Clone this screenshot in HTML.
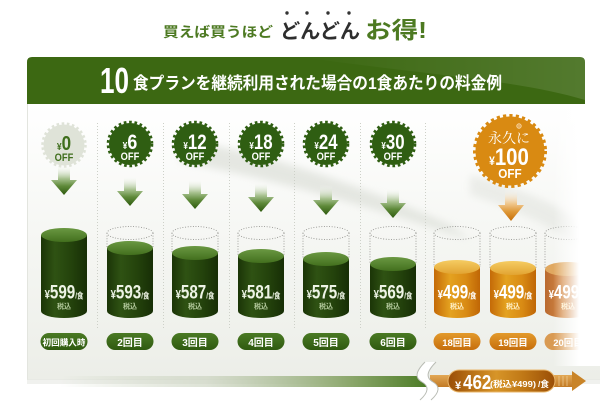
<!DOCTYPE html>
<html><head><meta charset="utf-8">
<style>
html,body{margin:0;padding:0;background:#fff;}
svg{display:block;}
.jp{font-family:"Liberation Sans","Noto Sans CJK JP",sans-serif;font-weight:bold;}
.num{font-family:"Liberation Sans","Noto Sans CJK JP",sans-serif;font-weight:bold;}
</style></head>
<body>
<svg width="600" height="402" viewBox="0 0 600 402" xmlns="http://www.w3.org/2000/svg">
<defs>
  <linearGradient id="panel" x1="0" y1="0" x2="0" y2="1">
    <stop offset="0" stop-color="#ffffff"/>
    <stop offset="0.45" stop-color="#f6f7f4"/>
    <stop offset="1" stop-color="#eceee8"/>
  </linearGradient>
  <linearGradient id="fadeR" x1="540" y1="0" x2="600" y2="0" gradientUnits="userSpaceOnUse">
    <stop offset="0" stop-color="#fff" stop-opacity="0"/>
    <stop offset="0.22" stop-color="#fff" stop-opacity="0"/>
    <stop offset="0.65" stop-color="#fff" stop-opacity="1"/>
    <stop offset="1" stop-color="#fff" stop-opacity="1"/>
  </linearGradient>
  <linearGradient id="garr" x1="0" y1="0" x2="0" y2="1">
    <stop offset="0" stop-color="#ffffff" stop-opacity="0"/>
    <stop offset="0.45" stop-color="#a8c290"/>
    <stop offset="0.7" stop-color="#5f8a3a"/>
    <stop offset="1" stop-color="#2e5a0e"/>
  </linearGradient>
  <linearGradient id="oarr" x1="0" y1="0" x2="0" y2="1">
    <stop offset="0" stop-color="#ffffff" stop-opacity="0"/>
    <stop offset="0.45" stop-color="#f0c890"/>
    <stop offset="0.7" stop-color="#df9a3a"/>
    <stop offset="1" stop-color="#c66e08"/>
  </linearGradient>
  <linearGradient id="gbody" x1="0" y1="0" x2="1" y2="0">
    <stop offset="0" stop-color="#1b3507"/>
    <stop offset="0.3" stop-color="#2f5213"/>
    <stop offset="0.65" stop-color="#24430c"/>
    <stop offset="1" stop-color="#172e06"/>
  </linearGradient>
  <linearGradient id="gtop" x1="0" y1="0" x2="0" y2="1">
    <stop offset="0" stop-color="#6a9842"/>
    <stop offset="1" stop-color="#43701e"/>
  </linearGradient>
  <linearGradient id="obody" x1="0" y1="0" x2="1" y2="0">
    <stop offset="0" stop-color="#c46a08"/>
    <stop offset="0.35" stop-color="#e4a220"/>
    <stop offset="0.7" stop-color="#d98b14"/>
    <stop offset="1" stop-color="#bf6606"/>
  </linearGradient>
  <linearGradient id="otop" x1="0" y1="0" x2="0" y2="1">
    <stop offset="0" stop-color="#f5cc62"/>
    <stop offset="1" stop-color="#e2a432"/>
  </linearGradient>
  <linearGradient id="bbody" x1="0" y1="0" x2="1" y2="0">
    <stop offset="0" stop-color="#b96a30"/>
    <stop offset="0.4" stop-color="#d58a45"/>
    <stop offset="1" stop-color="#c07038"/>
  </linearGradient>
  <linearGradient id="gpill" x1="0" y1="0" x2="0" y2="1">
    <stop offset="0" stop-color="#4a7a24"/>
    <stop offset="1" stop-color="#2f5a10"/>
  </linearGradient>
  <linearGradient id="opill" x1="0" y1="0" x2="0" y2="1">
    <stop offset="0" stop-color="#e39a2c"/>
    <stop offset="1" stop-color="#c66e0c"/>
  </linearGradient>
  <linearGradient id="gbar" x1="60" y1="0" x2="425" y2="0" gradientUnits="userSpaceOnUse">
    <stop offset="0" stop-color="#b8c4a8" stop-opacity="0"/>
    <stop offset="0.4" stop-color="#c7d0bb" stop-opacity="0.6"/>
    <stop offset="0.8" stop-color="#8aa66a"/>
    <stop offset="1" stop-color="#4e7d28"/>
  </linearGradient>
  <linearGradient id="obar" x1="0" y1="0" x2="0" y2="1">
    <stop offset="0" stop-color="#e2a855"/>
    <stop offset="1" stop-color="#c27a25"/>
  </linearGradient>
  <linearGradient id="bigpill" x1="0" y1="0" x2="1" y2="0">
    <stop offset="0" stop-color="#9a4e06"/>
    <stop offset="0.45" stop-color="#d79528"/>
    <stop offset="0.7" stop-color="#c07816"/>
    <stop offset="1" stop-color="#9a4e06"/>
  </linearGradient>
  <linearGradient id="banhi" x1="0" y1="0" x2="1" y2="0">
    <stop offset="0" stop-color="#ffffff" stop-opacity="0"/>
    <stop offset="1" stop-color="#ffffff" stop-opacity="0.12"/>
  </linearGradient>
  <filter id="blur" x="-20%" y="-50%" width="140%" height="200%"><feGaussianBlur stdDeviation="4"/></filter>
</defs>

<!-- panel -->
<rect x="27" y="104" width="573" height="276" fill="url(#panel)"/>
<line x1="27.5" y1="104" x2="27.5" y2="380" stroke="#e3e5df" stroke-width="1"/>
<rect x="27" y="379" width="573" height="5" fill="#e6e8e2" opacity="0.6"/>
<!-- swoosh -->
<path d="M180,140 C260,150 360,185 450,225 L470,240 C380,210 280,180 180,162 Z" fill="#dcdfd8" opacity="0.7" filter="url(#blur)"/>
<path d="M470,175 C530,190 580,215 600,240 L600,262 C570,235 520,210 470,195 Z" fill="#e2e4df" opacity="0.6" filter="url(#blur)"/>

<!-- title -->
<text class="jp" x="163" y="37" font-size="14" fill="#4d7a22" textLength="110" lengthAdjust="spacingAndGlyphs">買えば買うほど</text>
<text class="jp" x="280" y="38" font-size="20" fill="#2e2e2e" textLength="80" lengthAdjust="spacingAndGlyphs">どんどん</text>
<circle cx="287" cy="13" r="1.7" fill="#333"/>
<circle cx="307" cy="13" r="1.7" fill="#333"/>
<circle cx="328" cy="13" r="1.7" fill="#333"/>
<circle cx="349" cy="13" r="1.7" fill="#333"/>
<text class="jp" x="365" y="38" font-size="23" fill="#4d7a22" textLength="62" lengthAdjust="spacingAndGlyphs">お得!</text>

<!-- banner -->
<path d="M27,104 V62 Q27,57 32,57 H580 Q585,57 585,62 V104 Z" fill="#3c6812"/>
<path d="M300,57 H580 Q585,57 585,62 V100 C520,80 420,74 300,57 Z" fill="url(#banhi)"/>
<text class="num" x="100" y="93" font-size="36" fill="#fff" textLength="29" lengthAdjust="spacingAndGlyphs">10</text>
<text class="jp" x="133" y="89" font-size="17" fill="#fff" textLength="369" lengthAdjust="spacingAndGlyphs">食プランを継続利用された場合の1食あたりの料金例</text>

<!-- dividers -->
<g stroke="#cdd0c8" stroke-width="1" stroke-dasharray="1 2">
  <line x1="97.5" y1="123" x2="97.5" y2="328"/>
  <line x1="163.5" y1="123" x2="163.5" y2="328"/>
  <line x1="229.5" y1="123" x2="229.5" y2="328"/>
  <line x1="294.5" y1="123" x2="294.5" y2="328"/>
  <line x1="360.5" y1="123" x2="360.5" y2="328"/>
  <line x1="425.5" y1="123" x2="425.5" y2="328"/>
</g>

<!-- badges -->
<g>
  <circle cx="64" cy="145" r="20.5" fill="#dfe3d8"/>
  <circle cx="64" cy="145" r="21.5" fill="none" stroke="#dfe3d8" stroke-width="2.5" stroke-dasharray="2.6 2.6"/>
  <g transform="translate(64,150) scale(0.85,1)"><text class="num" text-anchor="middle" fill="#3f6e1c"><tspan font-size="10">¥</tspan><tspan font-size="20">0</tspan></text></g>
  <g transform="translate(64,161) scale(0.85,1)"><text class="num" text-anchor="middle" font-size="11" fill="#3f6e1c">OFF</text></g>
</g>
<g fill="#2f5e12">
  <circle cx="130" cy="144" r="21"/>
  <circle cx="195" cy="144" r="21"/>
  <circle cx="261" cy="144" r="21"/>
  <circle cx="326" cy="144" r="21"/>
  <circle cx="393" cy="144" r="21"/>
</g>
<g fill="none" stroke="#2f5e12" stroke-width="2.6" stroke-dasharray="2.7 2.7">
  <circle cx="130" cy="144" r="22"/>
  <circle cx="195" cy="144" r="22"/>
  <circle cx="261" cy="144" r="22"/>
  <circle cx="326" cy="144" r="22"/>
  <circle cx="393" cy="144" r="22"/>
</g>
<g fill="#fff" class="num">
  <g transform="translate(130,149) scale(0.85,1)"><text class="num" text-anchor="middle"><tspan font-size="10">¥</tspan><tspan font-size="21">6</tspan></text></g>
  <g transform="translate(195,149) scale(0.8,1)"><text class="num" text-anchor="middle"><tspan font-size="10">¥</tspan><tspan font-size="21">12</tspan></text></g>
  <g transform="translate(261,149) scale(0.8,1)"><text class="num" text-anchor="middle"><tspan font-size="10">¥</tspan><tspan font-size="21">18</tspan></text></g>
  <g transform="translate(326,149) scale(0.8,1)"><text class="num" text-anchor="middle"><tspan font-size="10">¥</tspan><tspan font-size="21">24</tspan></text></g>
  <g transform="translate(393,149) scale(0.8,1)"><text class="num" text-anchor="middle"><tspan font-size="10">¥</tspan><tspan font-size="21">30</tspan></text></g>
  <g transform="translate(130,160) scale(0.85,1)"><text class="num" text-anchor="middle" font-size="11">OFF</text></g>
  <g transform="translate(195,160) scale(0.85,1)"><text class="num" text-anchor="middle" font-size="11">OFF</text></g>
  <g transform="translate(261,160) scale(0.85,1)"><text class="num" text-anchor="middle" font-size="11">OFF</text></g>
  <g transform="translate(326,160) scale(0.85,1)"><text class="num" text-anchor="middle" font-size="11">OFF</text></g>
  <g transform="translate(393,160) scale(0.85,1)"><text class="num" text-anchor="middle" font-size="11">OFF</text></g>
</g>
<!-- orange badge -->
<circle cx="510" cy="151" r="34.5" fill="#d98a12"/>
<circle cx="510" cy="151" r="35.5" fill="none" stroke="#d98a12" stroke-width="3" stroke-dasharray="3.2 3.2"/>
<circle cx="519" cy="126" r="2.3" fill="#eab060" stroke="#fbe2b8" stroke-width="0.6"/>
<text x="509" y="143" text-anchor="middle" font-family="'Liberation Serif','Noto Serif CJK SC',serif" font-size="14" fill="#fff" textLength="42" lengthAdjust="spacingAndGlyphs">永久に</text>
<g transform="translate(509,165) scale(0.85,1)"><text class="num" text-anchor="middle" fill="#fff"><tspan font-size="12">¥</tspan><tspan font-size="24">100</tspan></text></g>
<g transform="translate(510,178) scale(0.9,1)"><text class="num" text-anchor="middle" font-size="13" fill="#fff">OFF</text></g>

<!-- arrows -->
<path d="M58,165 H70 V180 H77 L64,195 L51,180 H58 Z" fill="url(#garr)"/>
<path d="M124,176 H136 V191 H143 L130,206 L117,191 H124 Z" fill="url(#garr)"/>
<path d="M189,179 H201 V194 H208 L195,209 L182,194 H189 Z" fill="url(#garr)"/>
<path d="M255,182 H267 V197 H274 L261,212 L248,197 H255 Z" fill="url(#garr)"/>
<path d="M320,185 H332 V200 H339 L326,215 L313,200 H320 Z" fill="url(#garr)"/>
<path d="M387,188 H399 V203 H406 L393,218 L380,203 H387 Z" fill="url(#garr)"/>
<path d="M505,189 H517 V205 H524 L511,221 L498,205 H505 Z" fill="url(#oarr)"/>

<!-- dotted outlines -->
<g fill="none" stroke="#9a9a96" stroke-width="0.9" stroke-dasharray="1 1.6">
  <ellipse cx="130" cy="233" rx="23" ry="6.5"/><line x1="107" y1="233" x2="107" y2="248"/><line x1="153" y1="233" x2="153" y2="248"/>
  <ellipse cx="195" cy="233" rx="23" ry="6.5"/><line x1="172" y1="233" x2="172" y2="253"/><line x1="218" y1="233" x2="218" y2="253"/>
  <ellipse cx="261" cy="233" rx="23" ry="6.5"/><line x1="238" y1="233" x2="238" y2="256"/><line x1="284" y1="233" x2="284" y2="256"/>
  <ellipse cx="326" cy="233" rx="23" ry="6.5"/><line x1="303" y1="233" x2="303" y2="259"/><line x1="349" y1="233" x2="349" y2="259"/>
  <ellipse cx="393" cy="233" rx="23" ry="6.5"/><line x1="370" y1="233" x2="370" y2="264"/><line x1="416" y1="233" x2="416" y2="264"/>
  <ellipse cx="457" cy="233" rx="23" ry="6.5"/><line x1="434" y1="233" x2="434" y2="267"/><line x1="480" y1="233" x2="480" y2="267"/>
  <ellipse cx="513" cy="233" rx="23" ry="6.5"/><line x1="490" y1="233" x2="490" y2="268"/><line x1="536" y1="233" x2="536" y2="268"/>
  <ellipse cx="568" cy="233" rx="23" ry="6.5"/><line x1="545" y1="233" x2="545" y2="269"/><line x1="591" y1="233" x2="591" y2="269"/>
</g>

<!-- cylinders green -->
<path d="M41,235 V311 A23 7 0 0 0 87,311 V235 Z" fill="url(#gbody)"/><ellipse cx="64" cy="235" rx="23" ry="7" fill="url(#gtop)"/>
<path d="M107,248 V311 A23 7 0 0 0 153,311 V248 Z" fill="url(#gbody)"/><ellipse cx="130" cy="248" rx="23" ry="7" fill="url(#gtop)"/>
<path d="M172,253 V311 A23 7 0 0 0 218,311 V253 Z" fill="url(#gbody)"/><ellipse cx="195" cy="253" rx="23" ry="7" fill="url(#gtop)"/>
<path d="M238,256 V311 A23 7 0 0 0 284,311 V256 Z" fill="url(#gbody)"/><ellipse cx="261" cy="256" rx="23" ry="7" fill="url(#gtop)"/>
<path d="M303,259 V311 A23 7 0 0 0 349,311 V259 Z" fill="url(#gbody)"/><ellipse cx="326" cy="259" rx="23" ry="7" fill="url(#gtop)"/>
<path d="M370,264 V311 A23 7 0 0 0 416,311 V264 Z" fill="url(#gbody)"/><ellipse cx="393" cy="264" rx="23" ry="7" fill="url(#gtop)"/>
<!-- cylinders orange -->
<path d="M434,267 V311 A23 7 0 0 0 480,311 V267 Z" fill="url(#obody)"/><ellipse cx="457" cy="267" rx="23" ry="7" fill="url(#otop)"/>
<path d="M490,268 V311 A23 7 0 0 0 536,311 V268 Z" fill="url(#obody)"/><ellipse cx="513" cy="268" rx="23" ry="7" fill="url(#otop)"/>
<path d="M545,269 V311 A23 7 0 0 0 591,311 V269 Z" fill="url(#bbody)"/><ellipse cx="568" cy="269" rx="23" ry="7" fill="#e0a860"/>

<!-- prices -->
<g fill="#eef4e6">
  <g transform="translate(64,298.5) scale(0.8,1)"><text class="num" text-anchor="middle"><tspan font-size="12">¥</tspan><tspan font-size="19">599</tspan><tspan font-size="8">/食</tspan></text></g>
  <g transform="translate(130,298.5) scale(0.8,1)"><text class="num" text-anchor="middle"><tspan font-size="12">¥</tspan><tspan font-size="19">593</tspan><tspan font-size="8">/食</tspan></text></g>
  <g transform="translate(195,298.5) scale(0.8,1)"><text class="num" text-anchor="middle"><tspan font-size="12">¥</tspan><tspan font-size="19">587</tspan><tspan font-size="8">/食</tspan></text></g>
  <g transform="translate(261,298.5) scale(0.8,1)"><text class="num" text-anchor="middle"><tspan font-size="12">¥</tspan><tspan font-size="19">581</tspan><tspan font-size="8">/食</tspan></text></g>
  <g transform="translate(326,298.5) scale(0.8,1)"><text class="num" text-anchor="middle"><tspan font-size="12">¥</tspan><tspan font-size="19">575</tspan><tspan font-size="8">/食</tspan></text></g>
  <g transform="translate(393,298.5) scale(0.8,1)"><text class="num" text-anchor="middle"><tspan font-size="12">¥</tspan><tspan font-size="19">569</tspan><tspan font-size="8">/食</tspan></text></g>
</g>
<g fill="#ffffff">
  <g transform="translate(457,298.5) scale(0.8,1)"><text class="num" text-anchor="middle"><tspan font-size="12">¥</tspan><tspan font-size="19">499</tspan><tspan font-size="8">/食</tspan></text></g>
  <g transform="translate(513,298.5) scale(0.8,1)"><text class="num" text-anchor="middle"><tspan font-size="12">¥</tspan><tspan font-size="19">499</tspan><tspan font-size="8">/食</tspan></text></g>
  <g transform="translate(568,298.5) scale(0.8,1)"><text class="num" text-anchor="middle"><tspan font-size="12">¥</tspan><tspan font-size="19">499</tspan><tspan font-size="8">/食</tspan></text></g>
</g>
<g class="jp" font-size="7" text-anchor="middle">
  <text x="64" y="308.5" fill="#b3c99c">税込</text>
  <text x="130" y="308.5" fill="#b3c99c">税込</text>
  <text x="195" y="308.5" fill="#b3c99c">税込</text>
  <text x="261" y="308.5" fill="#b3c99c">税込</text>
  <text x="326" y="308.5" fill="#b3c99c">税込</text>
  <text x="393" y="308.5" fill="#b3c99c">税込</text>
  <text x="457" y="308.5" fill="#fff0c8">税込</text>
  <text x="513" y="308.5" fill="#fff0c8">税込</text>
  <text x="568" y="308.5" fill="#fff0c8">税込</text>
</g>

<!-- pills -->
<g>
  <rect x="40.5" y="333" width="47" height="17" rx="8.5" fill="url(#gpill)"/>
  <rect x="106.5" y="333" width="47" height="17" rx="8.5" fill="url(#gpill)"/>
  <rect x="171.5" y="333" width="47" height="17" rx="8.5" fill="url(#gpill)"/>
  <rect x="237.5" y="333" width="47" height="17" rx="8.5" fill="url(#gpill)"/>
  <rect x="302.5" y="333" width="47" height="17" rx="8.5" fill="url(#gpill)"/>
  <rect x="369.5" y="333" width="47" height="17" rx="8.5" fill="url(#gpill)"/>
  <rect x="433.5" y="333" width="47" height="17" rx="8.5" fill="url(#opill)"/>
  <rect x="489.5" y="333" width="47" height="17" rx="8.5" fill="url(#opill)"/>
  <rect x="544.5" y="333" width="47" height="17" rx="8.5" fill="#d99a52"/>
</g>
<g class="jp" fill="#fff" text-anchor="middle">
  <text x="64" y="345.5" font-size="8.5" textLength="43" lengthAdjust="spacingAndGlyphs">初回購入時</text>
  <text x="130" y="346" font-size="10">2回目</text>
  <text x="195" y="346" font-size="10">3回目</text>
  <text x="261" y="346" font-size="10">4回目</text>
  <text x="326" y="346" font-size="10">5回目</text>
  <text x="393" y="346" font-size="10">6回目</text>
  <text x="457" y="346" font-size="9.5">18回目</text>
  <text x="513" y="346" font-size="9.5">19回目</text>
  <text x="568" y="346" font-size="9.5">20回目</text>
</g>

<!-- right fade -->
<rect x="540" y="104" width="60" height="262" fill="url(#fadeR)"/>

<!-- bottom bars -->
<rect x="60" y="376" width="366" height="11" fill="url(#gbar)"/>
<rect x="430" y="375" width="145" height="12" fill="url(#obar)"/>
<g stroke="#f0cf98" stroke-width="1" opacity="0.7">
  <line x1="559" y1="376" x2="559" y2="386"/>
  <line x1="563" y1="376" x2="563" y2="386"/>
  <line x1="567" y1="376" x2="567" y2="386"/>
</g>
<path d="M572,371 L586,381 L572,391 Z" fill="#c98428"/>
<!-- wave break -->
<path d="M425,362 C415,372 415,378 422,382 C429,386 429,392 420,400 L431,400 C440,392 440,386 433,382 C426,378 426,372 436,362 Z" fill="#fff"/>
<path d="M425,362 C415,372 415,378 422,382 C429,386 429,392 420,400" fill="none" stroke="#b9bcb4" stroke-width="1"/>
<path d="M436,362 C426,372 426,378 433,382 C440,386 440,392 431,400" fill="none" stroke="#b9bcb4" stroke-width="1"/>
<!-- big pill -->
<rect x="448" y="370" width="107" height="22" rx="11" fill="url(#bigpill)" stroke="#e9b66a" stroke-width="1"/>
<g transform="translate(455,389)"><text class="num" fill="#fff"><tspan font-size="11">¥</tspan></text></g>
<g transform="translate(463,389) scale(0.85,1)"><text class="num" fill="#fff" font-size="20">462</text></g>
<text class="jp" x="490" y="387" font-size="8.5" fill="#fff" textLength="46" lengthAdjust="spacingAndGlyphs">(税込¥499)</text>
<text class="jp" x="538" y="387" font-size="8.5" fill="#fff" textLength="11" lengthAdjust="spacingAndGlyphs">/食</text>
</svg>
</body></html>
